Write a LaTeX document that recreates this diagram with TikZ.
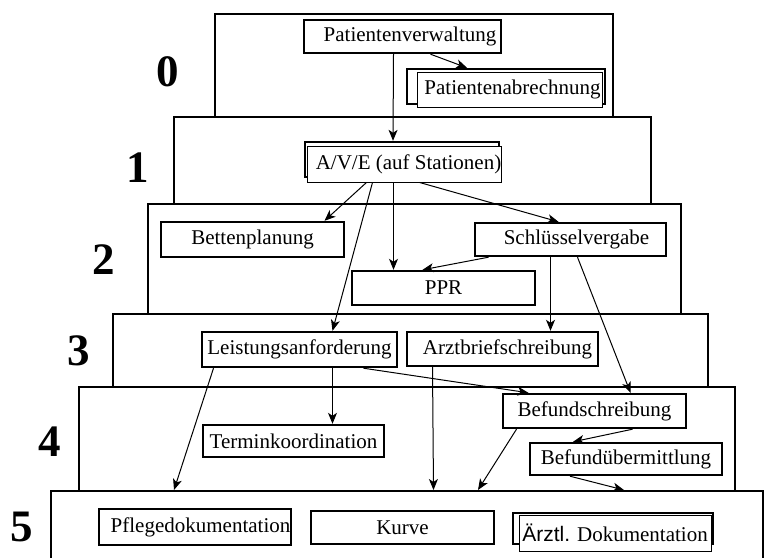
\documentclass[tikz,border=0pt]{standalone}
\usepackage{fontspec}
\setmainfont{Liberation Serif}
\setsansfont{Liberation Sans}
\usetikzlibrary{arrows.meta}

\begin{document}
\begin{tikzpicture}[x=1pt,y=-1pt,layer/.style={draw=black,line width=2pt,anchor=north west,inner sep=0pt},level/.style={font=\fontsize{45}{45}\selectfont\bfseries},task/.style={draw=black,line width=2.4pt,fill=white,inner sep=0pt,font=\fontsize{21}{25}\selectfont},taskB/.style={task,fill=none},taskF/.style={task,line width=0.9pt},flow/.style={line width=1pt,-{Stealth[length=11pt,width=9pt,inset=3pt]}}]
\useasboundingbox (0,0) rectangle (781,557);

\node[layer,minimum width=398pt,minimum height=103pt] (L0) at (214,13) {};
\node[layer,minimum width=477pt,minimum height=87pt] (L1) at (173,116) {};
\node[layer,minimum width=533pt,minimum height=110pt] (L2) at (147,203) {};
\node[layer,minimum width=595pt,minimum height=73pt] (L3) at (112,313) {};
\node[layer,minimum width=656pt,minimum height=104pt] (L4) at (78,386) {};
\node[layer,minimum width=712pt,minimum height=80pt] (L5) at (50,490) {};

\node[level] (n0) at (168,72) {0};
\node[level] (n1) at (138,168) {1};
\node[level] (n2) at (104,260) {2};
\node[level] (n3) at (79,351) {3};
\node[level] (n4) at (50,442) {4};
\node[level] (n5) at (22,527) {5};

\node[task,minimum width=197pt,minimum height=33pt] (pv) at (402.5,36.5) {\hspace*{15pt}Patientenverwaltung};
\node[taskB,minimum width=198pt,minimum height=35pt] (pa0) at (506,86.5) {};
\node[taskF,minimum width=185pt,minimum height=35pt] (pa) at (509.5,89.5) {\hspace*{6pt}Patientenabrechnung};

\node[taskB,minimum width=194pt,minimum height=35pt] (ave0) at (402,159.5) {};
\node[taskF,minimum width=193pt,minimum height=36pt] (ave) at (404.5,164) {\hspace*{8pt}A/V/E (auf Stationen)};

\node[task,minimum width=183pt,minimum height=35pt] (bett) at (252.5,239.5) {Bettenplanung};
\node[task,minimum width=191pt,minimum height=33pt] (schl) at (570.5,239.5) {\hspace*{12pt}Schlüsselvergabe};
\node[task,minimum width=183pt,minimum height=34pt] (ppr) at (443.5,288) {PPR};

\node[task,minimum width=195pt,minimum height=35pt] (leist) at (299.5,349.5) {Leistungsanforderung};
\node[task,minimum width=191pt,minimum height=34pt] (arzt) at (502.5,349) {\hspace*{10pt}Arztbriefschreibung};

\node[task,minimum width=181pt,minimum height=32pt] (term) at (293.5,441) {Terminkoordination};
\node[task,minimum width=183pt,minimum height=34pt] (befs) at (594.5,411) {Befundschreibung};
\node[task,minimum width=192pt,minimum height=32pt] (befu) at (626,459) {Befundübermittlung};

\node[task,minimum width=192pt,minimum height=36pt] (pflege) at (195,527) {\hspace*{11pt}Pflegedokumentation};
\node[task,minimum width=183pt,minimum height=33pt] (kurve) at (402.5,527.5) {Kurve};
\node[taskB,minimum width=200pt,minimum height=31pt] (aerzt0) at (613,528.5) {};
\node[taskF,minimum width=192pt,minimum height=36pt] (aerzt) at (615,533) {{\sffamily Ärztl.} Dokumentation};

\draw[flow] ([xshift=28pt]pv.south) -- ([xshift=-39pt]pa0.north);
\draw[flow] ([xshift=-9pt]pv.south) -- ([xshift=-9pt]ave0.north);
\draw[flow] ([xshift=-38pt]ave.south) -- ([xshift=72pt]bett.north);
\draw[flow] ([xshift=-32pt]ave.south) -- ([xshift=33pt]leist.north);
\draw[flow] ([xshift=-11pt]ave.south) -- ([xshift=-50pt]ppr.north);
\draw[flow] ([xshift=15pt]ave.south) -- ([xshift=-12pt]schl.north);
\draw[flow] ([xshift=-82pt]schl.south) -- ([xshift=-21pt]ppr.north);
\draw[flow] ([xshift=-20pt]schl.south) -- ([xshift=48pt]arzt.north);
\draw[flow] ([xshift=7pt]schl.south) -- ([xshift=36pt]befs.north);
\draw[flow] ([xshift=33pt]leist.south) -- ([xshift=39pt]term.north);
\draw[flow] ([xshift=64pt]leist.south) -- ([xshift=-66pt]befs.north);
\draw[flow] ([xshift=-86pt]leist.south) -- ([xshift=-233pt]L5.north);
\draw[flow] ([xshift=-70pt]arzt.south) -- ([xshift=26.5pt]L5.north);
\draw[flow] ([xshift=-78pt]befs.south) -- ([xshift=71pt]L5.north);
\draw[flow] ([xshift=38pt]befs.south) -- ([xshift=-53pt]befu.north);
\draw[flow] ([xshift=-56pt]befu.south) -- ([xshift=217pt]L5.north);
\end{tikzpicture}
\end{document}
